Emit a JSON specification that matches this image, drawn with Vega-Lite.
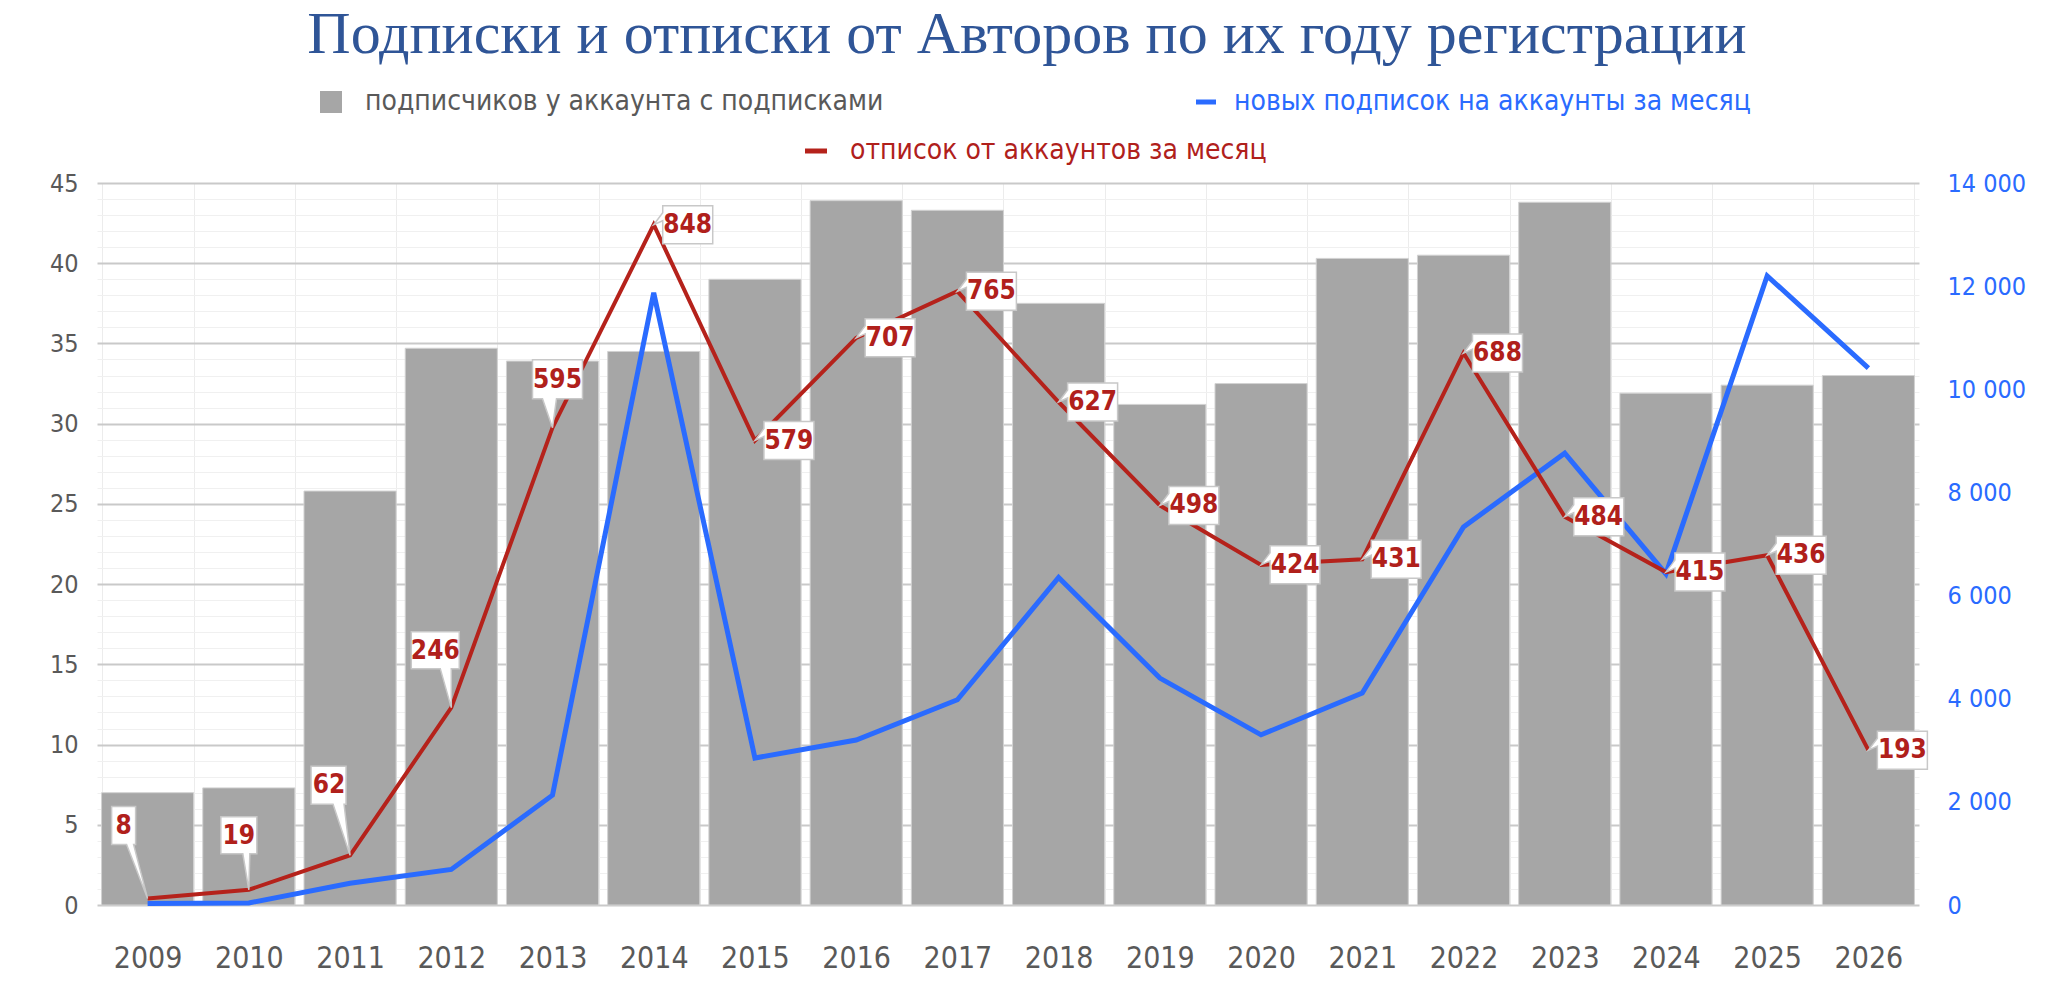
{
  "$schema": "https://vega.github.io/schema/vega-lite/v6.json",
  "autosize": {"type": "none"},
  "padding": {"left": 97, "top": 183, "right": 129, "bottom": 85},
  "width": 1822,
  "height": 722,
  "background": "white",
  "title": {
    "text": "Подписки и отписки от Авторов по их году регистрации",
    "font": "Liberation Serif",
    "fontSize": 60,
    "fontWeight": "normal",
    "color": "#2F5597",
    "anchor": "middle",
    "dx": 19,
    "offset": 22
  },
  "data": {
    "values": [
      {"year": 2009, "subs": 7.0, "new": 30, "unsub": 8},
      {"year": 2010, "subs": 7.3, "new": 40, "unsub": 19},
      {"year": 2011, "subs": 25.8, "new": 420, "unsub": 62},
      {"year": 2012, "subs": 34.7, "new": 690, "unsub": 246},
      {"year": 2013, "subs": 33.9, "new": 2130, "unsub": 595},
      {"year": 2014, "subs": 34.5, "new": 11870, "unsub": 848},
      {"year": 2015, "subs": 39.0, "new": 2850, "unsub": 579},
      {"year": 2016, "subs": 43.9, "new": 3200, "unsub": 707},
      {"year": 2017, "subs": 43.3, "new": 3980, "unsub": 765},
      {"year": 2018, "subs": 37.5, "new": 6350, "unsub": 627},
      {"year": 2019, "subs": 31.2, "new": 4400, "unsub": 498},
      {"year": 2020, "subs": 32.5, "new": 3300, "unsub": 424},
      {"year": 2021, "subs": 40.3, "new": 4110, "unsub": 431},
      {"year": 2022, "subs": 40.5, "new": 7330, "unsub": 688},
      {"year": 2023, "subs": 43.8, "new": 8760, "unsub": 484},
      {"year": 2024, "subs": 31.9, "new": 6420, "unsub": 415},
      {"year": 2025, "subs": 32.4, "new": 12200, "unsub": 436},
      {"year": 2026, "subs": 33.0, "new": 10410, "unsub": 193}
    ]
  },
  "encoding": {
    "x": {
      "field": "year",
      "type": "ordinal",
      "scale": {"paddingInner": 0.09, "paddingOuter": 0.045},
      "axis": {
        "title": null,
        "labelAngle": 0,
        "labelFontSize": 30,
        "labelColor": "#595959",
        "labelPadding": 38,
        "ticks": false,
        "domain": false,
        "grid": true,
        "gridColor": "#ececec",
        "gridWidth": 1,
        "tickBand": "extent"
      }
    }
  },
  "layer": [
    {
      "mark": {"type": "bar", "stroke": "#d2d2d2", "strokeWidth": 1},
      "encoding": {
        "y": {
          "field": "subs",
          "type": "quantitative",
          "scale": {"domain": [0, 45], "nice": false},
          "axis": {
            "title": null,
            "orient": "left",
            "values": [0,1,2,3,4,5,6,7,8,9,10,11,12,13,14,15,16,17,18,19,20,21,22,23,24,25,26,27,28,29,30,31,32,33,34,35,36,37,38,39,40,41,42,43,44,45],
            "labelExpr": "datum.value % 5 === 0 ? datum.label : ''",
            "grid": true,
            "gridColor": {"condition": {"test": "datum.value % 5 === 0", "value": "#c9c9c9"}, "value": "#f0f0f0"},
            "gridWidth": {"condition": {"test": "datum.value % 5 === 0", "value": 2}, "value": 1},
            "ticks": false,
            "domain": false,
            "labelPadding": 19,
            "labelFontSize": 25,
            "labelColor": "#595959"
          }
        },
        "fill": {
          "datum": "подписчиков у аккаунта с подписками",
          "scale": {"range": ["#A6A6A6"]},
          "legend": {
            "orient": "none",
            "legendX": 220,
            "legendY": -95,
            "title": null,
            "symbolType": "square",
            "symbolSize": 484,
            "symbolStrokeWidth": 0,
            "labelColor": "#595959",
            "labelFontSize": 28,
            "labelOffset": 20
          }
        }
      }
    },
    {
      "mark": {"type": "line", "strokeWidth": 5},
      "encoding": {
        "y": {
          "field": "new",
          "type": "quantitative",
          "scale": {"domain": [0, 14000], "nice": false},
          "axis": {
            "title": null,
            "orient": "right",
            "values": [0, 2000, 4000, 6000, 8000, 10000, 12000, 14000],
            "labelExpr": "replace(format(datum.value, ',d'), ',', ' ')",
            "grid": false,
            "ticks": false,
            "domain": false,
            "labelPadding": 28,
            "labelFontSize": 25,
            "labelColor": "#2A6BFF"
          }
        },
        "stroke": {
          "datum": "новых подписок на аккаунты за месяц",
          "scale": {"range": ["#2A6BFF"]},
          "legend": {
            "orient": "none",
            "legendX": 1095,
            "legendY": -95,
            "title": null,
            "symbolType": "stroke",
            "symbolStrokeWidth": 5,
            "symbolSize": 400,
            "labelColor": "#2A6BFF",
            "labelFontSize": 28,
            "labelOffset": 14
          }
        }
      }
    },
    {
      "encoding": {
        "y": {
          "field": "unsub",
          "type": "quantitative",
          "scale": {"domain": [0, 900], "nice": false},
          "axis": null
        }
      },
      "layer": [
        {
          "mark": {"type": "line", "strokeWidth": 4},
          "encoding": {
            "color": {
              "datum": "отписок от аккаунтов за месяц",
              "scale": {"range": ["#B5221B"]},
              "legend": {
                "orient": "none",
                "legendX": 705,
                "legendY": -46,
                "title": null,
                "symbolType": "stroke",
                "symbolStrokeWidth": 5,
                "symbolSize": 484,
                "labelColor": "#B0201B",
                "labelFontSize": 28,
                "labelOffset": 20
              }
            }
          }
        },
        {
          "mark": {"type": "point", "filled": true, "fill": "white", "stroke": "#c8c8c8", "strokeWidth": 1.5, "opacity": 1, "size": 4},
          "encoding": {
            "shape": {
              "condition": [
                {"test": "datum.year == 2009", "value": "M-36,-92H-12V-54H-14L0,0L-21,-54H-36Z"},
                {"test": "datum.year == 2010", "value": "M-28,-73H8V-36H1L0,0L-6,-36H-28Z"},
                {"test": "datum.year == 2011", "value": "M-39,-89H-4V-51H-6L0,0L-17,-51H-39Z"},
                {"test": "datum.year == 2012", "value": "M-40,-76H8V-39H0L0,0L-11,-39H-40Z"},
                {"test": "datum.year == 2013", "value": "M-20,-68H30V-29H4L0,0L-10,-29H-20Z"}
              ],
              "value": "M0,0L9,-12V-19H59V19H9V-4Z"
            }
          }
        },
        {
          "mark": {
            "type": "text",
            "fontWeight": "bold",
            "fontSize": 26,
            "color": "#B0201B",
            "align": "center",
            "baseline": "middle",
            "dx": {"expr": "datum.year == 2009 ? -24 : datum.year == 2010 ? -10 : datum.year == 2011 ? -21 : datum.year == 2012 ? -16 : datum.year == 2013 ? 5 : 34"},
            "dy": {"expr": "datum.year == 2009 ? -73 : datum.year == 2010 ? -54 : datum.year == 2011 ? -70 : datum.year == 2012 ? -57 : datum.year == 2013 ? -48 : 0"}
          },
          "encoding": {
            "text": {"field": "unsub", "type": "quantitative"}
          }
        }
      ]
    }
  ],
  "resolve": {"scale": {"y": "independent"}},
  "config": {
    "font": "Liberation Sans Narrow, DejaVu Sans Condensed, Roboto Condensed, Open Sans",
    "view": {"stroke": null},
    "axis": {"labelFont": "Liberation Sans Narrow, DejaVu Sans Condensed, Roboto Condensed, Open Sans"},
    "legend": {"labelFont": "Liberation Sans Narrow, DejaVu Sans Condensed, Roboto Condensed, Open Sans", "labelLimit": 800}
  }
}
